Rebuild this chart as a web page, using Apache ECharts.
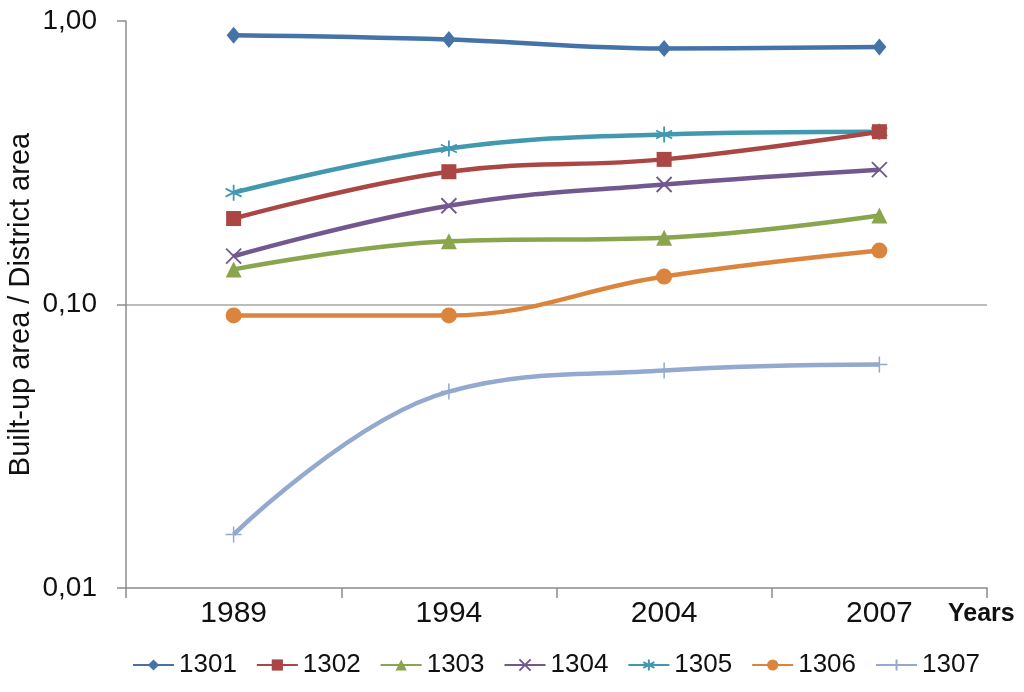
<!DOCTYPE html>
<html>
<head>
<meta charset="utf-8">
<script src="https://cdn.jsdelivr.net/npm/echarts@6/dist/echarts.min.js"></script>
<style>html,body{margin:0;padding:0;background:#fff}#c{width:1024px;height:692px}</style>
</head>
<body>
<div id="c"></div>
<script>
const categories = ['1989', '1994', '2004', '2007'];
const seriesNames = ['1301', '1302', '1303', '1304', '1305', '1306', '1307'];
const s1301 = [0.89, 0.86, 0.80, 0.81];
const s1302 = [0.201, 0.294, 0.325, 0.407];
const s1303 = [0.133, 0.167, 0.172, 0.206];
const s1304 = [0.148, 0.223, 0.265, 0.299];
const s1305 = [0.248, 0.355, 0.398, 0.407];
const s1306 = [0.0915, 0.0915, 0.1255, 0.155];
const s1307 = [0.01545, 0.0493, 0.0585, 0.0614];
const seriesValues = [s1301, s1302, s1303, s1304, s1305, s1306, s1307];

const colors = ['#4572A7', '#AA4643', '#89A54E', '#71588F', '#4198AF', '#DB843D', '#93A9CF'];
const markers = [
  {symbol: 'diamond', size: [14, 17], stroke: false},
  {symbol: 'rect', size: 15, stroke: false},
  {symbol: 'triangle', size: 16, stroke: false},
  {symbol: 'path://M0,0L10,10M10,0L0,10', size: 15, stroke: true, w: 1.8},
  {symbol: 'path://M5,0L5,10M0.7,2.5L9.3,7.5M9.3,2.5L0.7,7.5', size: 16, stroke: true, w: 1.8},
  {symbol: 'circle', size: 16, stroke: false},
  {symbol: 'path://M5,0L5,10M0,5L10,5', size: 16, stroke: true, w: 1.5}
];

const chart = echarts.init(document.getElementById('c'));
const series = seriesNames.map((name, i) => {
  const m = markers[i];
  return {
    name: name,
    type: 'line',
    data: seriesValues[i],
    smooth: 0.4,
    symbol: m.symbol,
    symbolSize: m.size,
    showSymbol: true,
    lineStyle: {color: colors[i], width: 4.5},
    itemStyle: m.stroke
      ? {color: 'rgba(0,0,0,0)', borderColor: colors[i], borderWidth: m.w}
      : {color: colors[i], borderWidth: 0},
    emphasis: {disabled: true},
    z: 10 - i
  };
});

chart.setOption({
  animation: false,
  color: colors,
  grid: {left: 126, right: 37, top: 21, bottom: 104, containLabel: false, outerBoundsMode: 'none'},
  legend: {
    data: seriesNames,
    left: 127,
    top: 647,
    itemWidth: 41,
    itemHeight: 14,
    itemGap: 19,
    textStyle: {fontSize: 26, fontFamily: '"Liberation Sans", Arial, sans-serif', color: '#111'}
  },
  xAxis: {
    type: 'category',
    data: categories,
    boundaryGap: true,
    name: 'Years',
    nameLocation: 'end',
    nameGap: -39,
    nameTextStyle: {fontSize: 25, fontWeight: 'bold', color: '#111', fontFamily: '"Liberation Sans", Arial, sans-serif', verticalAlign: 'top', padding: [14, 0, 0, 0]},
    axisLine: {lineStyle: {color: '#8c8c8c', width: 1.5}},
    axisTick: {show: true, interval: 0, alignWithLabel: false, length: 10, lineStyle: {color: '#8c8c8c', width: 1.5}},
    axisLabel: {fontSize: 30, color: '#111', margin: 11, fontFamily: '"Liberation Sans", Arial, sans-serif'},
    splitLine: {show: false}
  },
  yAxis: {
    type: 'log',
    logBase: 10,
    min: 0.01,
    max: 1,
    name: 'Built-up area / District area',
    nameLocation: 'middle',
    nameGap: 91,
    nameMoveOverlap: false,
    nameTextStyle: {fontSize: 29, color: '#111', fontFamily: '"Liberation Sans", Arial, sans-serif'},
    axisLine: {show: true, lineStyle: {color: '#8c8c8c', width: 1.5}},
    axisTick: {show: true, length: 9, lineStyle: {color: '#8c8c8c', width: 1.5}},
    axisLabel: {
      fontSize: 28, color: '#111', margin: 29,
      fontFamily: '"Liberation Sans", Arial, sans-serif',
      formatter: v => Number(v).toFixed(2).replace('.', ',')
    },
    splitLine: {show: true, showMinLine: false, showMaxLine: false, lineStyle: {color: '#a6a6a6', width: 1.5}}
  },
  series: series
});
</script>
</body>
</html>
